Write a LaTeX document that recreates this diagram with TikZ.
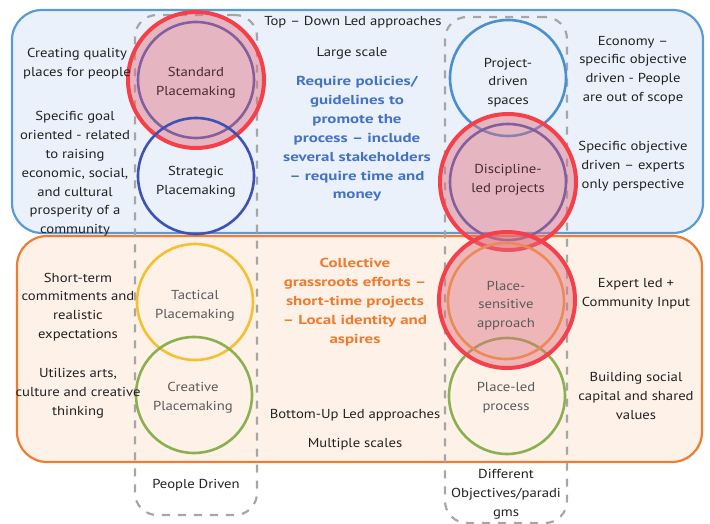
\documentclass[tikz,border=0pt]{standalone}
\usepackage{fontspec}
\setmainfont{PT Sans}[FakeStretch=1.13, BoldFeatures={FakeStretch=1.3}]
\definecolor{boxblue}{HTML}{5B9BD5}
\definecolor{fillblue}{HTML}{EAF1FA}
\definecolor{boxorange}{HTML}{ED7D31}
\definecolor{fillorange}{HTML}{FDF1E8}
\definecolor{dashgrey}{HTML}{A6A6A6}
\definecolor{redring}{HTML}{F5404A}
\definecolor{pinkfill}{HTML}{E07080}
\definecolor{darkblue}{HTML}{3F51B5}
\definecolor{lightblue}{HTML}{4A90D0}
\definecolor{ringyellow}{HTML}{F5C030}
\definecolor{ringgreen}{HTML}{8AB050}
\definecolor{ringorange}{HTML}{F5A030}
\definecolor{txtblue}{HTML}{4472C4}
\definecolor{txtorange}{HTML}{EB7C30}
\definecolor{txtdark}{HTML}{222222}
\definecolor{txtgrey}{HTML}{5A5A5A}
\definecolor{txtmaroon}{HTML}{4A2A30}
\begin{document}
\begin{tikzpicture}[x=1pt,y=-1pt,
  every node/.style={inner sep=0pt},
  txt/.style={font=\fontsize{13}{18.8}\selectfont, text=txtdark, align=center, inner sep=0pt, yshift=-2pt},
  panel/.style={draw, line width=2.2pt, rounded corners=30pt, inner sep=0pt},
  column/.style={draw=dashgrey, line width=2.2pt, dash pattern=on 8pt off 8pt, rounded corners=22pt, inner sep=0pt},
  ring/.style={circle, draw, line width=2.6pt, minimum size=116pt, inner sep=0pt},
  redring/.style={circle, draw=redring, line width=4pt, fill=pinkfill, fill opacity=0.45, minimum size=136pt, inner sep=0pt},
  bluetxt/.style={txt, text=txtblue, font=\fontsize{13}{18.9}\selectfont\bfseries},
  orangetxt/.style={txt, text=txtorange, font=\fontsize{13}{18.9}\selectfont\bfseries},
  greytxt/.style={txt, text=txtgrey},
  maroontxt/.style={txt, text=txtmaroon}
]
\useasboundingbox (0,0) rectangle (710,524);
% panels
\node[panel, draw=boxblue, fill=fillblue, minimum width=691pt, minimum height=223pt] (toppanel) at (357.5,121.5) {};
\node[panel, draw=boxorange, fill=fillorange, minimum width=685pt, minimum height=226pt] (botpanel) at (359.5,349) {};
% dashed columns
\node[column, minimum width=122pt, minimum height=500pt] (leftcol) at (196,265) {};
\node[column, minimum width=122pt, minimum height=506pt] (rightcol) at (506,270) {};
% left column circles
\node[ring, draw=darkblue] (stdin) at (196,80) {};
\node[redring] (std) at (196,80) {};
\node[maroontxt] (stdtxt) at (196,80.5) {Standard\\Placemaking};
\node[ring, draw=darkblue] (strat) at (196,176) {};
\node[txt] (strattxt) at (196,179.5) {Strategic\\Placemaking};
\node[ring, draw=ringyellow] (tact) at (195,302) {};
\node[ring, draw=ringgreen] (creat) at (194,395) {};
\node[greytxt] (tacttxt) at (195,304) {Tactical\\Placemaking};
\node[greytxt] (creattxt) at (193,396) {Creative\\Placemaking};
% right column circles
\node[ring, draw=lightblue] (proj) at (508,78) {};
\node[txt] (projtxt) at (508,80.5) {Project-\\driven\\spaces};
\node[ring, draw=darkblue] (discin) at (508,182) {};
\node[redring] (disc) at (508,182) {};
\node[maroontxt] (disctxt) at (508,177.5) {Discipline-\\led projects};
\node[ring, draw=ringgreen] (placeled) at (507,396) {};
\node[ring, draw=ringorange] (sensin) at (506,301) {};
\node[redring] (sens) at (507,300) {};
\node[greytxt] (senstxt) at (506,303.5) {Place-\\sensitive\\approach};
\node[greytxt] (placeledtxt) at (506,395.5) {Place-led\\process};
% left texts
\node[txt] (l1) at (77,62) {Creating quality\\places for people};
\node[txt] (l2) at (75,172) {Specific goal\\oriented - related\\to raising\\economic, social,\\and cultural\\prosperity of a\\community};
\node[txt] (l3) at (78,305) {Short-term\\commitments and\\realistic\\expectations};
\node[txt] (l4) at (78,391) {Utilizes arts,\\culture and creative\\thinking};
\node[txt] (l5) at (196,483) {People Driven};
% middle texts
\node[txt] (m1) at (353,20) {Top -- Down Led approaches};
\node[txt] (m2) at (352,51) {Large scale};
\node[bluetxt] (m3) at (357,137) {Require policies/\\guidelines to\\promote the\\process -- include\\several stakeholders\\-- require time and\\money};
\node[orangetxt] (m4) at (355,300) {Collective\\grassroots efforts --\\short-time projects\\-- Local identity and\\aspires};
\node[txt] (m5) at (355,413) {Bottom-Up Led approaches};
\node[txt] (m6) at (355,442) {Multiple scales};
% right texts
\node[txt] (r1) at (633,68) {Economy --\\specific objective\\driven - People\\are out of scope};
\node[txt] (r2) at (633,164) {Specific objective\\driven -- experts\\only perspective};
\node[txt] (r3) at (636,292) {Expert led +\\Community Input};
\node[txt] (r4) at (636,394) {Building social\\capital and shared\\values};
\node[txt] (r5) at (506,492) {Different\\Objectives/paradi\\gms};
\end{tikzpicture}
\end{document}
